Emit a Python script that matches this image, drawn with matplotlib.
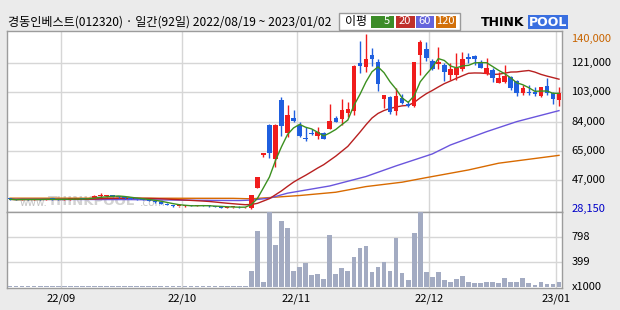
import numpy as np
import pandas as pd
import matplotlib
matplotlib.use('Agg')
import matplotlib.pyplot as plt
from matplotlib.patches import Rectangle

plt.rcParams['font.family'] = ['Noto Sans CJK KR', 'DejaVu Sans']

## data
opens = [34700, 34500, 34000, 34600, 34300, 34500, 34400, 34600, 34500, 34300,
         34600, 34800, 35000, 34700, 35000, 36500, 36400, 37000, 36200, 35800,
         35200, 34800, 34500, 34000, 33600, 32500, 31800, 30800, 30000, 30300,
         30600, 30200, 30700, 30400, 30000, 29500, 29200, 29600, 29700, 29300,
         29000, 42000, 63000, 81900, 60200, 97800, 77000, 86100, 81800, 73800,
         76800, 74900, 76800, 79300, 86100, 85500, 89700, 90800, 121500, 119000,
         126500, 121800, 98400, 99900, 91000, 98900, 95000, 94000, 126500, 130300,
         122600, 120700, 120100, 113700, 113700, 117300, 125400, 125800, 122200, 114400,
         116900, 108800, 109400, 112600, 110100, 102100, 103100, 103100, 100500, 106700,
         102400, 97800]
highs = [35000, 34700, 34800, 34900, 34600, 34800, 34700, 35200, 34800, 34700,
         35000, 35500, 35400, 35100, 37000, 38300, 37200, 37300, 36500, 36000,
         35500, 35000, 34700, 34200, 33800, 32800, 32000, 31000, 30500, 30600,
         30900, 30600, 31000, 30600, 30200, 29800, 29600, 29900, 30000, 29800,
         37500, 49000, 63700, 82300, 82300, 99900, 94600, 91400, 83800, 80800,
         79500, 80800, 77500, 95200, 87600, 98400, 96700, 120000, 135400, 140000,
         130700, 123900, 101000, 100500, 105200, 101600, 97300, 122000, 136000, 134900,
         123700, 131700, 121200, 121200, 127900, 128600, 127500, 126500, 123300, 124400,
         118000, 115800, 120100, 113100, 110500, 107400, 107400, 106300, 106300, 111600,
         103100, 106300]
lows = [34200, 33800, 33900, 34200, 34000, 34200, 34100, 34300, 34000, 34100,
        34200, 34500, 34600, 34400, 34900, 36000, 36000, 36000, 35600, 35000,
        34600, 34300, 33800, 33500, 32400, 31600, 30600, 29900, 29700, 29900,
        30100, 30000, 30200, 29800, 29300, 29000, 28900, 29200, 29100, 28900,
        28150, 41500, 61700, 60700, 55300, 74900, 74400, 84000, 74500, 71900,
        75500, 72800, 72700, 79000, 83500, 81900, 87200, 88200, 114800, 115800,
        119600, 103500, 92500, 88900, 88200, 95000, 93500, 93500, 113700, 122800,
        116900, 117300, 110100, 110500, 110500, 116500, 121200, 120100, 118000, 113700,
        109500, 108400, 108400, 104200, 100500, 101000, 101000, 100500, 99900, 101000,
        95200, 94000]
closes = [34500, 34000, 34600, 34300, 34500, 34400, 34600, 34500, 34300, 34600,
          34800, 35000, 34700, 34900, 36800, 37200, 37000, 36200, 35800, 35200,
          34800, 34500, 34000, 33600, 32500, 31800, 30800, 30000, 30300, 30600,
          30200, 30700, 30400, 30000, 29500, 29200, 29600, 29700, 29300, 29600,
          37300, 49000, 63700, 63800, 81900, 81400, 88200, 84600, 75100, 72800,
          76000, 77400, 73200, 84400, 84000, 91400, 92000, 119600, 119500, 123900,
          123700, 107800, 101000, 90300, 100500, 95700, 94000, 121800, 134900, 124400,
          117500, 122200, 115800, 117500, 118400, 123700, 123900, 123700, 118400, 118000,
          111600, 111600, 113100, 105200, 102100, 105600, 102100, 101600, 105900, 102400,
          98200, 102100]
volume = [20, 20, 20, 20, 20, 20, 20, 30, 20, 20,
          20, 20, 20, 20, 20, 30, 20, 20, 20, 30,
          20, 20, 20, 20, 30, 20, 30, 20, 20, 20,
          20, 20, 20, 20, 20, 20, 20, 20, 20, 20,
          266, 888, 90, 1300, 681, 1048, 936, 266, 330, 388,
          202, 218, 138, 825, 218, 309, 266, 489, 633, 665,
          250, 330, 410, 266, 782, 223, 122, 857, 1300, 250,
          170, 250, 122, 90, 138, 186, 90, 74, 74, 90,
          90, 74, 154, 90, 90, 154, 74, 43, 90, 59,
          59, 90]

# 60 / 120 day averages (day index, value)
ma60_idx = [0, 10, 20, 30, 38, 40, 43, 46, 53, 59, 64, 70, 73, 79, 84, 91]
ma60_val = [34500, 34400, 34300, 33900, 33700, 34000, 35200, 38400, 43000, 49000, 55800, 63400, 69100, 77600, 84000, 91000]
ma120_idx = [0, 20, 37, 40, 48, 54, 59, 65, 69, 76, 81, 91]
ma120_val = [35200, 35200, 35100, 34800, 36900, 39000, 42600, 45400, 48300, 53200, 57500, 62500]

price_ticks = np.linspace(28150, 140000, 7)
price_labels = ['28,150', '47,000', '65,000', '84,000', '103,000', '121,000', '140,000']
vol_ticks = [0, 399, 798]
vol_labels = ['x1000', '399', '798']
month_pos = [8.5, 28.5, 47.5, 69.5, 90.5]
month_labels = ['22/09', '22/10', '22/11', '22/12', '23/01']

title = '경동인베스트(012320) · 일간(92일) 2022/08/19 ~ 2023/01/02'

## colours
UP = '#f01c1c'
DOWN = '#1f5fdf'
GRID = '#d6d6d6'
EDGE = '#9c9c9c'
BG = '#ebebeb'

W, H = 620, 310
def rect(x0, y0, x1, y1):
    return [x0 / W, 1 - y1 / H, (x1 - x0) / W, (y1 - y0) / H]

fig = plt.figure(figsize=(6.2, 3.1), dpi=100, facecolor=BG)
ax = fig.add_axes(rect(7, 31, 562, 212))
axv = fig.add_axes(rect(7, 212, 562, 288), sharex=ax)

df = pd.DataFrame({'o': opens, 'h': highs, 'l': lows, 'c': closes, 'v': volume})
x = np.arange(len(df))
up = df['c'] >= df['o']
col = np.where(up, UP, DOWN)

## candles
ax.vlines(x, df['l'], df['h'], colors=col, lw=1, zorder=3)
body_lo = np.minimum(df['o'], df['c'])
body_h = np.maximum((df['c'] - df['o']).abs(), 600)
ax.bar(x, body_h, bottom=body_lo, width=0.75, color=col, lw=0, zorder=4)

## moving averages
ma5 = df['c'].rolling(5, min_periods=1).mean()
ma20 = df['c'].rolling(20, min_periods=1).mean()
ax.plot(ma120_idx, ma120_val, color='#d86a00', lw=1, zorder=2)
ax.plot(ma60_idx, ma60_val, color='#6a55dd', lw=1, zorder=2)
ax.plot(x, ma20, color='#b82020', lw=1, zorder=2)
ax.plot(x, ma5, color='#3c9020', lw=1, zorder=5)

## watermark
ax.text(1.5, 32300, 'www.', fontsize=7.5, color='#c4c4c4', va='center', family='DejaVu Sans', zorder=1)
ax.text(6.2, 33200, 'THINKPOOL', fontsize=9.5, color='#d2d2d2', fontweight='bold', va='center', family='DejaVu Sans', zorder=1)
ax.text(21.6, 32300, '.com', fontsize=7.5, color='#c4c4c4', va='center', family='DejaVu Sans', zorder=1)

ax.set_xlim(-0.5, 91.5)
ax.set_ylim(26400, 141750)
ax.set_yticks(price_ticks[1:-1])
ax.yaxis.grid(True, color=GRID, lw=1)
ax.set_xticks(month_pos)
ax.xaxis.grid(True, color=GRID, lw=1)
ax.tick_params(axis='both', length=0, labelbottom=False, labelleft=False, labelright=False)
for i, (v, lab) in enumerate(zip(price_ticks, price_labels)):
    c = 'black'
    if i == 0:
        c = '#0000c8'
    if i == 6:
        c = '#c86400'
    va = 'center'
    if i == 6:
        va = 'top'
    ax.text(1.017, v, lab, transform=ax.get_yaxis_transform(), fontsize=8, color=c, va=va, ha='left')
ax.set_axisbelow(True)

## volume
axv.bar(x, df['v'], width=0.78, color='#a3abc2', lw=0, zorder=3)
axv.set_ylim(-8, 1197)
axv.set_yticks(vol_ticks[1:])
axv.yaxis.grid(True, color=GRID, lw=1)
axv.xaxis.grid(True, color=GRID, lw=1)
axv.set_axisbelow(True)
axv.tick_params(axis='both', length=0, labelleft=False)
for v, lab in zip(vol_ticks, vol_labels):
    axv.text(1.017, v, lab, transform=axv.get_yaxis_transform(), fontsize=8, va='center', ha='left')
axv.set_xticks(month_pos)
axv.set_xticklabels(month_labels, fontsize=8)
axv.tick_params(axis='x', pad=4)

for a in (ax, axv):
    a.set_facecolor('white')
    for s in a.spines.values():
        s.set_color(EDGE)
        s.set_linewidth(1)

## header
fig.text(8 / W, 1 - 22 / H, title, fontsize=8.7, va='center', ha='left')
fig.patches.append(Rectangle((339 / W, 1 - 30 / H), 121 / W, 17 / H, transform=fig.transFigure,
                             facecolor='white', edgecolor='#9a9a9a', lw=1))
fig.text(345 / W, 1 - 21.5 / H, '이평', fontsize=8.6, va='center', ha='left')
legend_items = [('5', '#3c8c28', 370.5, 393.5), ('20', '#c0302a', 395.5, 414.5),
                ('60', '#6464dc', 416, 434), ('120', '#d2700a', 436, 455.5)]
for lab, c, x0, x1 in legend_items:
    fig.patches.append(Rectangle((x0 / W, 1 - 27.5 / H), (x1 - x0) / W, 12 / H,
                                 transform=fig.transFigure, facecolor=c, edgecolor='none'))
    tx = (x0 + x1) / 2
    if lab == '5':
        tx = x0 + 16
    fig.text(tx / W, 1 - 21.5 / H, lab, fontsize=8, color='white', va='center', ha='center')

## logo
fig.text(481 / W, 1 - 22 / H, 'THINK', fontsize=9, fontweight='bold', family='DejaVu Sans', va='center', ha='left')
fig.text(529 / W, 1 - 22 / H, 'POOL', fontsize=9, fontweight='bold', family='DejaVu Sans', color='white', va='center', ha='left',
         bbox=dict(boxstyle='square,pad=0.05', facecolor='#3a6fe0', edgecolor='none'))

fig.savefig('out.png', dpi=100, facecolor=BG)
